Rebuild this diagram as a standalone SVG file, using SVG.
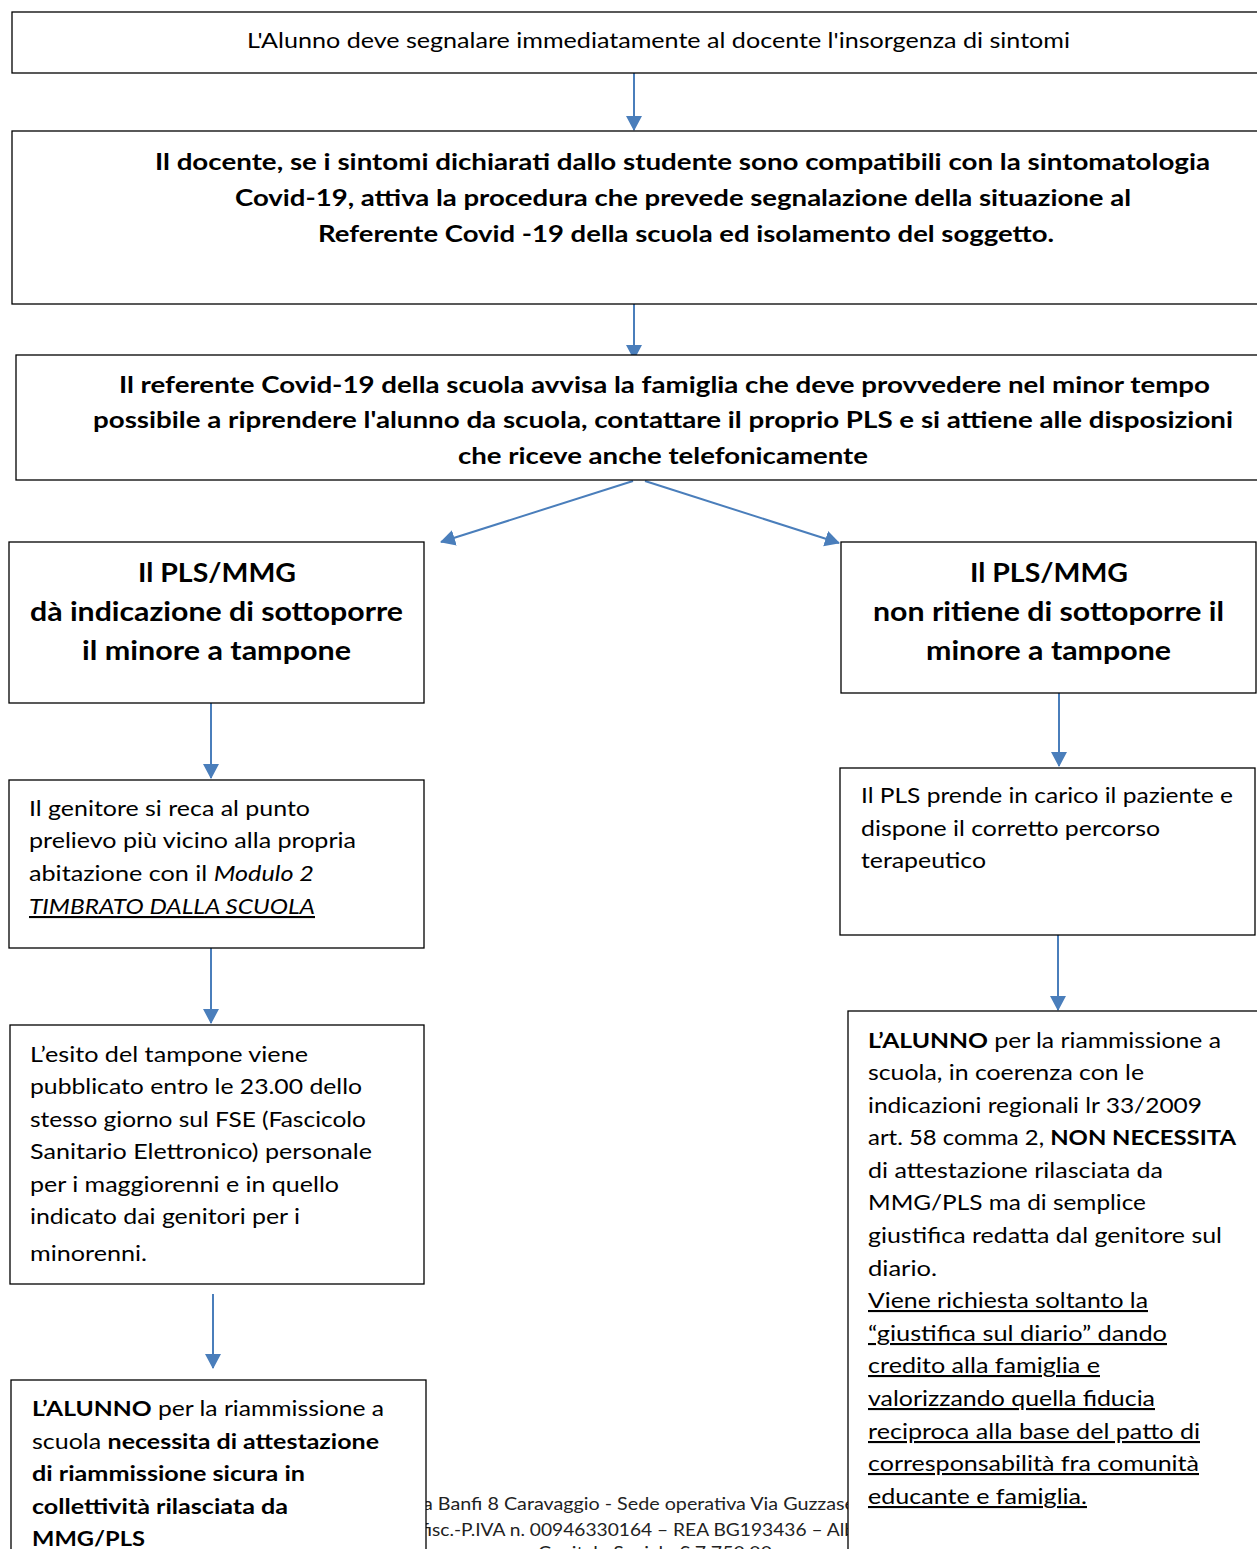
<svg xmlns="http://www.w3.org/2000/svg" width="1257" height="1549" viewBox="0 0 1257 1549">
<style>
.box{fill:#fff;stroke:#000;stroke-width:1.3}
.t{font-family:Lato,"Open Sans","Liberation Sans",sans-serif;fill:#000}
.r{font-size:21px}
.b{font-size:23.5px;font-weight:bold}
.h{font-size:26px;font-weight:bold}
.bw{font-weight:bold}
.i{font-style:italic}
.u{text-decoration:underline}
.f{font-family:Lato,"Open Sans","Liberation Sans",sans-serif;font-size:17px;fill:#222}
.conn{stroke:#4A7EBB;stroke-width:2;fill:none;marker-end:url(#ah)}
</style>
<defs>
<marker id="ah" markerUnits="userSpaceOnUse" markerWidth="18" markerHeight="18" refX="14" refY="9" orient="auto">
<path d="M0,1 L15,9 L0,17 z" fill="#4A7EBB"/>
</marker>
</defs>
<rect x="0" y="0" width="1257" height="1549" fill="#fff"/>

<g id="footer">
<text class="f" x="423" y="1510" textLength="432" lengthAdjust="spacingAndGlyphs">a Banfi 8 Caravaggio - Sede operativa Via Guzzase</text>
<text class="f" x="421" y="1536" textLength="434" lengthAdjust="spacingAndGlyphs">fisc.-P.IVA n. 00946330164 – REA BG193436 – Alb</text>
<text class="f" x="538" y="1559" textLength="234" lengthAdjust="spacingAndGlyphs">Capitale Sociale € 7.750,00</text>
</g>

<g id="connectors">
<line class="conn" x1="634" y1="73" x2="634" y2="130"/>
<line class="conn" x1="634" y1="304" x2="634" y2="359"/>
<line class="conn" x1="633" y1="481" x2="441" y2="542"/>
<line class="conn" x1="645" y1="481" x2="839" y2="543"/>
<line class="conn" x1="211" y1="703" x2="211" y2="778"/>
<line class="conn" x1="1059" y1="693" x2="1059" y2="766"/>
<line class="conn" x1="211" y1="948" x2="211" y2="1023"/>
<line class="conn" x1="1058" y1="935" x2="1058" y2="1010"/>
<line class="conn" x1="213" y1="1294" x2="213" y2="1368"/>
</g>

<g id="n1">
<rect class="box" x="12" y="12" width="1250" height="61"/>
<text class="t r" x="247" y="48" textLength="823" lengthAdjust="spacingAndGlyphs">L'Alunno deve segnalare immediatamente al docente l'insorgenza di sintomi</text>
</g>

<g id="n2">
<rect class="box" x="12" y="131" width="1250" height="173"/>
<text class="t b" x="155" y="170" textLength="1055" lengthAdjust="spacingAndGlyphs">Il docente, se i sintomi dichiarati dallo studente sono compatibili con la sintomatologia</text>
<text class="t b" x="235" y="206" textLength="896" lengthAdjust="spacingAndGlyphs">Covid-19, attiva la procedura che prevede segnalazione della situazione al</text>
<text class="t b" x="318" y="242" textLength="736" lengthAdjust="spacingAndGlyphs">Referente Covid -19 della scuola ed isolamento del soggetto.</text>
</g>

<g id="n3">
<rect class="box" x="16" y="355" width="1246" height="125"/>
<text class="t b" x="119" y="393" textLength="1091" lengthAdjust="spacingAndGlyphs">Il referente Covid-19 della scuola avvisa la famiglia che deve provvedere nel minor tempo</text>
<text class="t b" x="93" y="428" textLength="1140" lengthAdjust="spacingAndGlyphs">possibile a riprendere l'alunno da scuola, contattare il proprio PLS e si attiene alle disposizioni</text>
<text class="t b" x="458" y="464" textLength="410" lengthAdjust="spacingAndGlyphs">che riceve anche telefonicamente</text>
</g>

<g id="n4">
<rect class="box" x="9" y="542" width="415" height="161"/>
<text class="t h" x="138" y="582" textLength="158" lengthAdjust="spacingAndGlyphs">Il PLS/MMG</text>
<text class="t h" x="30" y="621" textLength="373" lengthAdjust="spacingAndGlyphs">dà indicazione di sottoporre</text>
<text class="t h" x="82" y="660" textLength="269" lengthAdjust="spacingAndGlyphs">il minore a tampone</text>
</g>

<g id="n5">
<rect class="box" x="841" y="542" width="415" height="151"/>
<text class="t h" x="970" y="582" textLength="158" lengthAdjust="spacingAndGlyphs">Il PLS/MMG</text>
<text class="t h" x="873" y="621" textLength="351" lengthAdjust="spacingAndGlyphs">non ritiene di sottoporre il</text>
<text class="t h" x="926" y="660" textLength="245" lengthAdjust="spacingAndGlyphs">minore a tampone</text>
</g>

<g id="n6">
<rect class="box" x="9" y="780" width="415" height="168"/>
<text class="t r" x="29" y="816" textLength="281" lengthAdjust="spacingAndGlyphs">Il genitore si reca al punto</text>
<text class="t r" x="29" y="848" textLength="327" lengthAdjust="spacingAndGlyphs">prelievo più vicino alla propria</text>
<text class="t r" x="29" y="881" textLength="285" lengthAdjust="spacingAndGlyphs">abitazione con il <tspan class="i">Modulo 2</tspan></text>
<text class="t r i u" x="29" y="914" textLength="286" lengthAdjust="spacingAndGlyphs">TIMBRATO DALLA SCUOLA</text>
</g>

<g id="n7">
<rect class="box" x="840" y="768" width="415" height="167"/>
<text class="t r" x="861" y="803" textLength="372" lengthAdjust="spacingAndGlyphs">Il PLS prende in carico il paziente e</text>
<text class="t r" x="861" y="836" textLength="299" lengthAdjust="spacingAndGlyphs">dispone il corretto percorso</text>
<text class="t r" x="861" y="868" textLength="125" lengthAdjust="spacingAndGlyphs">terapeutico</text>
</g>

<g id="n8">
<rect class="box" x="10" y="1025" width="414" height="259"/>
<text class="t r" x="30" y="1062" textLength="278" lengthAdjust="spacingAndGlyphs">L’esito del tampone viene</text>
<text class="t r" x="30" y="1094" textLength="332" lengthAdjust="spacingAndGlyphs">pubblicato entro le 23.00 dello</text>
<text class="t r" x="30" y="1127" textLength="336" lengthAdjust="spacingAndGlyphs">stesso giorno sul FSE (Fascicolo</text>
<text class="t r" x="30" y="1159" textLength="342" lengthAdjust="spacingAndGlyphs">Sanitario Elettronico) personale</text>
<text class="t r" x="30" y="1192" textLength="309" lengthAdjust="spacingAndGlyphs">per i maggiorenni e in quello</text>
<text class="t r" x="30" y="1224" textLength="270" lengthAdjust="spacingAndGlyphs">indicato dai genitori per i</text>
<text class="t r" x="30" y="1261" textLength="117" lengthAdjust="spacingAndGlyphs">minorenni.</text>
</g>

<g id="n9">
<rect class="box" x="848" y="1011" width="414" height="560"/>
<text class="t r" x="868" y="1048" textLength="353" lengthAdjust="spacingAndGlyphs"><tspan class="bw">L’ALUNNO</tspan> per la riammissione a</text>
<text class="t r" x="868" y="1080" textLength="276" lengthAdjust="spacingAndGlyphs">scuola, in coerenza con le</text>
<text class="t r" x="868" y="1113" textLength="334" lengthAdjust="spacingAndGlyphs">indicazioni regionali lr 33/2009</text>
<text class="t r" x="868" y="1145" textLength="368" lengthAdjust="spacingAndGlyphs">art. 58 comma 2, <tspan class="bw">NON NECESSITA</tspan></text>
<text class="t r" x="868" y="1178" textLength="295" lengthAdjust="spacingAndGlyphs">di attestazione rilasciata da</text>
<text class="t r" x="868" y="1210" textLength="278" lengthAdjust="spacingAndGlyphs">MMG/PLS ma di semplice</text>
<text class="t r" x="868" y="1243" textLength="354" lengthAdjust="spacingAndGlyphs">giustifica redatta dal genitore sul</text>
<text class="t r" x="868" y="1276" textLength="69" lengthAdjust="spacingAndGlyphs">diario.</text>
<text class="t r u" x="868" y="1308" textLength="280" lengthAdjust="spacingAndGlyphs">Viene richiesta soltanto la</text>
<text class="t r u" x="868" y="1341" textLength="299" lengthAdjust="spacingAndGlyphs">“giustifica sul diario” dando</text>
<text class="t r u" x="868" y="1373" textLength="232" lengthAdjust="spacingAndGlyphs">credito alla famiglia e</text>
<text class="t r u" x="868" y="1406" textLength="287" lengthAdjust="spacingAndGlyphs">valorizzando quella fiducia</text>
<text class="t r u" x="868" y="1439" textLength="332" lengthAdjust="spacingAndGlyphs">reciproca alla base del patto di</text>
<text class="t r u" x="868" y="1471" textLength="331" lengthAdjust="spacingAndGlyphs">corresponsabilità fra comunità</text>
<text class="t r u" x="868" y="1504" textLength="219" lengthAdjust="spacingAndGlyphs">educante e famiglia.</text>
</g>

<g id="n10">
<rect class="box" x="11" y="1380" width="415" height="190"/>
<text class="t r" x="32" y="1416" textLength="352" lengthAdjust="spacingAndGlyphs"><tspan class="bw">L’ALUNNO</tspan> per la riammissione a</text>
<text class="t r" x="32" y="1449" textLength="347" lengthAdjust="spacingAndGlyphs">scuola <tspan class="bw">necessita di attestazione</tspan></text>
<text class="t r bw" x="32" y="1481" textLength="273" lengthAdjust="spacingAndGlyphs">di riammissione sicura in</text>
<text class="t r bw" x="32" y="1514" textLength="256" lengthAdjust="spacingAndGlyphs">collettività rilasciata da</text>
<text class="t r bw" x="32" y="1546" textLength="113" lengthAdjust="spacingAndGlyphs">MMG/PLS</text>
</g>
</svg>
